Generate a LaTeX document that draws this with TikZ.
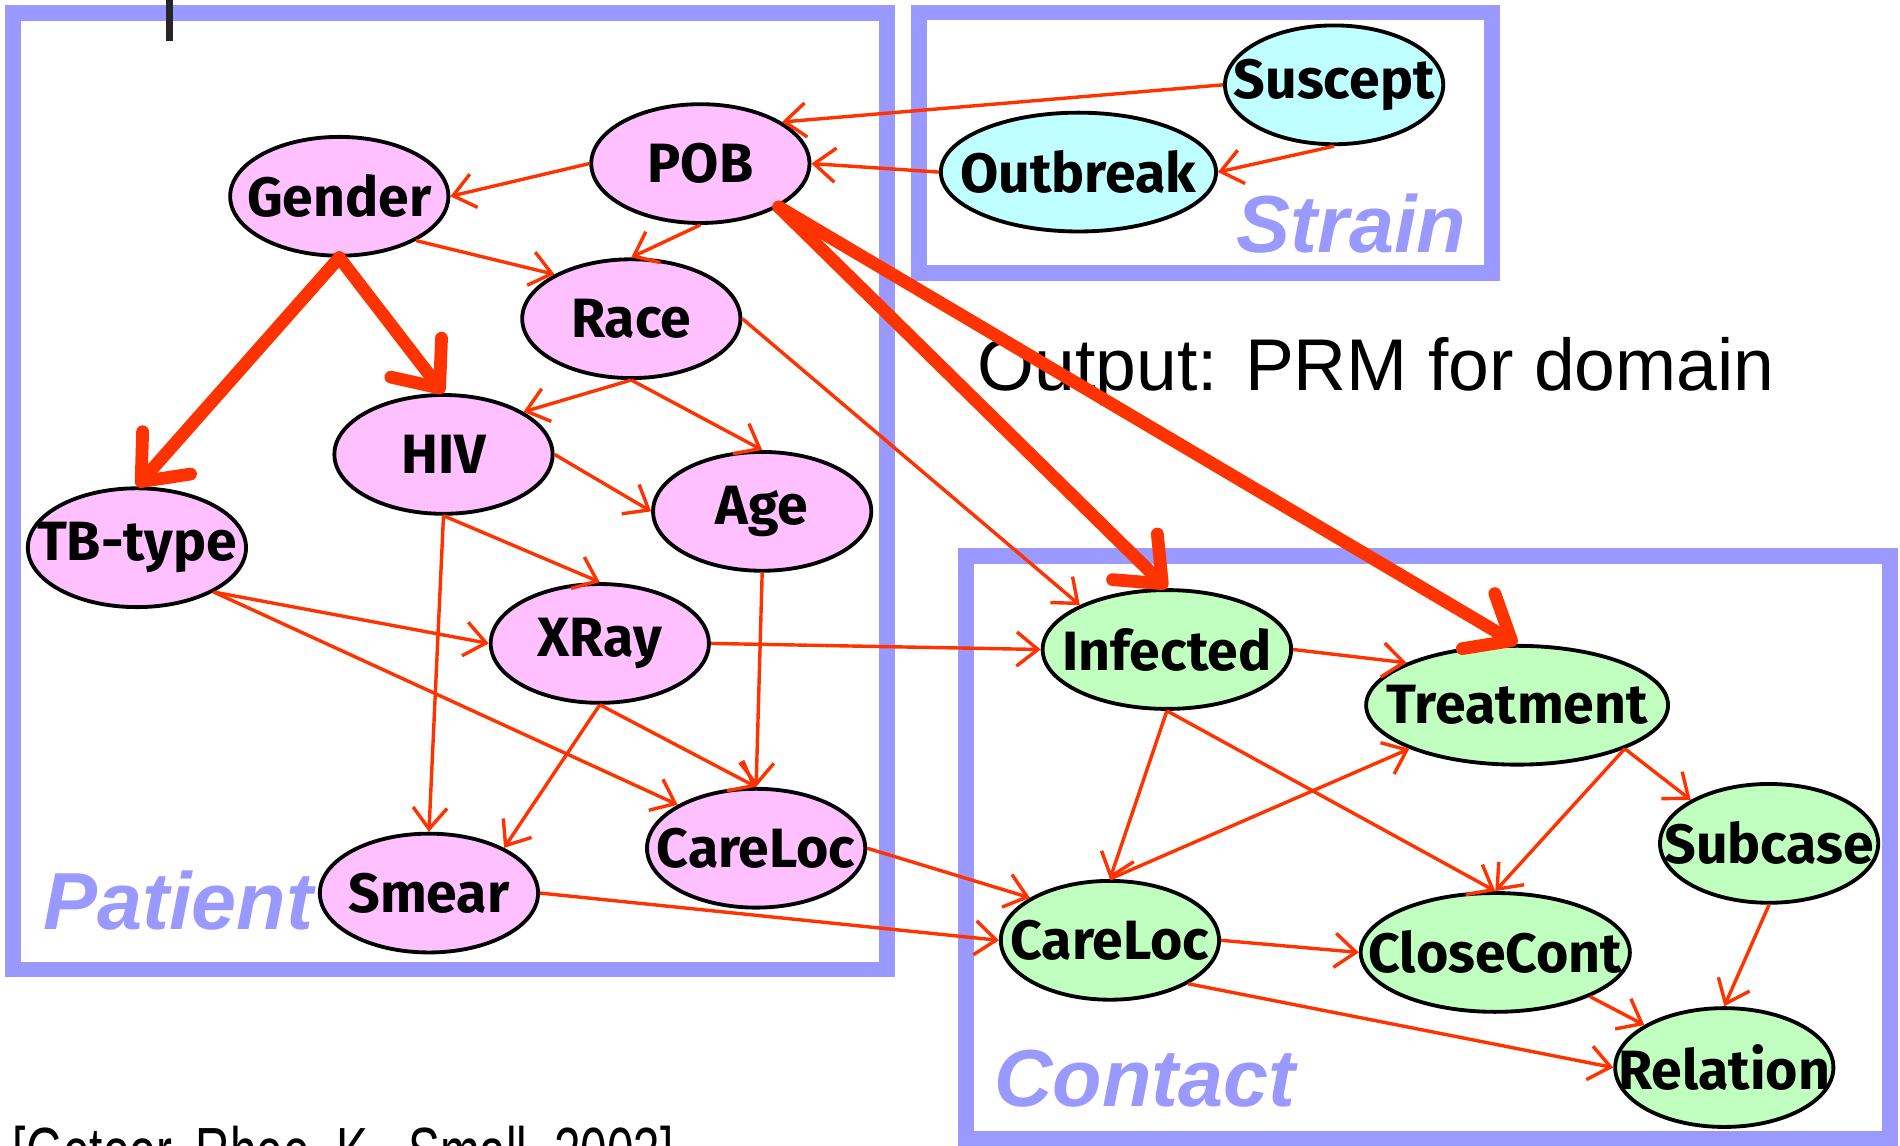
\documentclass[tikz,border=0pt]{standalone}
\usepackage{fontspec}
\usepackage{graphicx}
\setmainfont{Liberation Sans}
\newfontfamily\varfont{Fira Sans}
\usetikzlibrary{shapes.geometric,arrows.meta}

\definecolor{edgered}{RGB}{255,51,0}
\definecolor{platecol}{RGB}{153,153,255}
\definecolor{patpink}{RGB}{255,192,255}
\definecolor{strcyan}{RGB}{192,255,255}
\definecolor{congreen}{RGB}{192,255,192}

% variable names may stick out of their ellipse
\newcommand{\vname}[1]{\makebox[0pt]{#1}}

\tikzset{
  var/.style={ellipse,draw=black,line width=0.9pt,inner sep=0pt,
    minimum width=1.8cm,minimum height=0.98cm,
    font=\varfont\bfseries\fontsize{13}{13}\selectfont},
  pat/.style={var,fill=patpink},
  str/.style={var,fill=strcyan},
  con/.style={var,fill=congreen},
  dep/.style={draw=edgered,line width=0.8pt,-{Straight Barb[length=5pt,width=8pt]}},
  strong/.style={draw=edgered,line width=3pt,line cap=round,line join=round,
    -{Straight Barb[length=9pt,width=15pt,round]}},
  plate/.style={draw=platecol,line width=3.7pt},
  platename/.style={text=platecol,inner sep=0pt,
    font=\bfseries\itshape\fontsize{19}{19}\selectfont},
}

\begin{document}
\begin{tikzpicture}[x=0.01cm,y=-0.01cm]
  \useasboundingbox (0,0) rectangle (1568,945);

  % plates
  \draw[plate] (11,11) rectangle (732,800);
  \draw[plate] (758.5,10.3) rectangle (1231,225);
  \draw[plate] (797,459) rectangle (1560,940);

  \node[platename,anchor=base west] (patname) at (35,767) {Patient};
  \node[platename,anchor=base west] (strname) at (1020,208) {Strain};
  \node[platename,anchor=base west] (conname) at (820,913) {Contact};

  \draw[line width=1.7pt,black!85] (140,0) -- (140,34);
  \node[anchor=base west,inner sep=0pt,font=\fontsize{17.2}{17.2}\selectfont]
    (output) at (806,322) {Output: PRM for domain};
  \node[anchor=north west,inner sep=0pt,font=\fontsize{16}{16}\selectfont]
    (cite) at (10,929) {\scalebox{0.7}[1]{[Getoor, Rhee, K., Small, 2003]}};

  % Patient
  \node[pat] (POB) at (578,135) {\vname{POB}};
  \node[pat] (Gender) at (280,162) {\vname{Gender}};
  \node[pat] (Race) at (521,263) {\vname{Race}};
  \node[pat] (HIV) at (366,375) {\vname{HIV}};
  \node[pat] (Age) at (629,422) {\vname{Age}};
  \node[pat] (TBtype) at (113,452) {\vname{TB-type}};
  \node[pat] (XRay) at (495,531) {\vname{XRay}};
  \node[pat] (CareLocP) at (624,700) {\vname{CareLoc}};
  \node[pat] (Smear) at (354,737) {\vname{Smear}};

  % Strain
  \node[str] (Suscept) at (1101,70) {\vname{Suscept}};
  \node[str,minimum width=2.27cm] (Outbreak) at (890,142) {\vname{Outbreak}};

  % Contact
  \node[con,minimum width=2.05cm] (Infected) at (963,536) {\vname{Infected}};
  \node[con,minimum width=2.49cm] (Treatment) at (1252,582) {\vname{Treatment}};
  \node[con] (Subcase) at (1460,696) {\vname{Subcase}};
  \node[con] (CareLocC) at (916,776) {\vname{CareLoc}};
  \node[con,minimum width=2.22cm] (CloseCont) at (1234,786) {\vname{CloseCont}};
  \node[con] (Relation) at (1423,881) {\vname{Relation}};

  % dependencies
  \draw[dep] (Suscept.west) -- (POB.27);
  \draw[dep] (Suscept.south) -- (Outbreak.east);
  \draw[dep] (Outbreak.west) -- (POB.east);
  \draw[dep] (POB.west) -- (Gender.east);
  \draw[dep] (POB.south) -- (Race.north);
  \draw[dep] (Gender.330) -- (Race.150);
  \draw[dep] (Race.south) -- (HIV.28);
  \draw[dep] (Race.south) -- (Age.north);
  \draw[dep] (Race.east) -- (Infected.153);
  \draw[dep] (HIV.east) -- (Age.west);
  \draw[dep] (HIV.south) -- (XRay.north);
  \draw[dep] (HIV.south) -- (Smear.north);
  \draw[dep] (TBtype.330) -- (XRay.west);
  \draw[dep] (TBtype.330) -- (CareLocP.151);
  \draw[dep] (Age.south) -- (CareLocP.north);
  \draw[dep] (XRay.south) -- (CareLocP.north);
  \draw[dep] (XRay.south) -- (Smear.31);
  \draw[dep] (XRay.east) -- (Infected.west);
  \draw[dep] (CareLocP.east) -- (CareLocC.152);
  \draw[dep] (Smear.east) -- (CareLocC.west);
  \draw[dep] (Infected.east) -- (Treatment.159);
  \draw[dep] (Infected.south) -- (CareLocC.north);
  \draw[dep] (Infected.south) -- (CloseCont.north);
  \draw[dep] (CareLocC.north) -- (Treatment.202);
  \draw[dep] (Treatment.338) -- (CloseCont.north);
  \draw[dep] (Treatment.338) -- (Subcase.151);
  \draw[dep] (CareLocC.east) -- (CloseCont.west);
  \draw[dep] (CareLocC.331) -- (Relation.west);
  \draw[dep] (CloseCont.335) -- (Relation.152);
  \draw[dep] (Subcase.south) -- (Relation.north);

  % strong dependencies
  \draw[strong] (Gender.south) -- (TBtype.north);
  \draw[strong] (Gender.south) -- (HIV.north);
  \draw[strong] (POB.331) -- (Infected.north);
  \draw[strong] (POB.331) -- (Treatment.north);
\end{tikzpicture}
\end{document}
